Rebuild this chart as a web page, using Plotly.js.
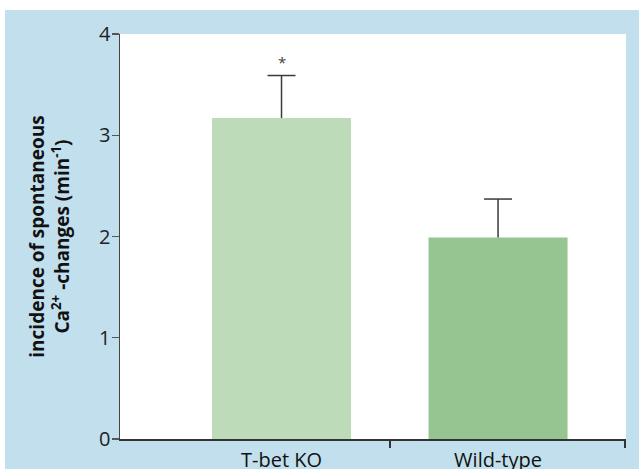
<!DOCTYPE html>
<html>
<head>
<meta charset="utf-8">
<script src="https://cdn.plot.ly/plotly-3.0.1.min.js"></script>
<style>
html,body{margin:0;padding:0;background:#ffffff;}
#wrap{position:absolute;left:5px;top:10px;width:634px;height:459px;background:#c1dfed;}
#chart{width:634px;height:459px;}
</style>
</head>
<body>
<div id="wrap"><div id="chart"></div></div>
<script>
const categories = ['T-bet KO', 'Wild-type'];
const means = [3.17, 1.99];
const errorsUp = [0.42, 0.38];
const significance = ['*', ''];
const barColors = ['#bddbb9', '#97c592'];
const yTicks = [0, 1, 2, 3, 4];

const xIdx = categories.map((c, i) => i);
const errTops = means.map((m, i) => m + errorsUp[i]);
const FONT = '"Open Sans", "Noto Sans", sans-serif';

const bars = {
  type: 'bar',
  x: xIdx,
  y: means,
  width: 0.642,
  marker: {color: barColors, line: {width: 0}},
  error_y: {type: 'data', symmetric: false, array: errorsUp, arrayminus: means.map(() => 0),
            color: '#3a3a3a', thickness: 1.5, width: 0},
  hoverinfo: 'skip'
};

// caps on top of the one-sided error bars
const caps = {
  type: 'scatter', mode: 'markers',
  x: xIdx, y: errTops,
  marker: {symbol: 'line-ew', size: 20, color: '#3a3a3a', line: {width: 1.5, color: '#3a3a3a'}},
  hoverinfo: 'skip', cliponaxis: false
};

const annotations = significance.map((s, i) => ({
  x: xIdx[i], y: errTops[i], xref: 'x', yref: 'y',
  text: s, showarrow: false, yanchor: 'bottom', yshift: 2,
  font: {family: FONT, size: 15, color: '#444'}
})).filter(a => a.text);

const layout = {
  width: 634, height: 459,
  margin: {l: 115, r: 13, t: 24, b: 30},
  paper_bgcolor: '#c1dfed',
  plot_bgcolor: '#ffffff',
  showlegend: false,
  xaxis: {
    range: [-0.746, 1.591],
    tickmode: 'array', tickvals: xIdx, ticktext: categories,
    ticks: '', showgrid: false, zeroline: false,
    showline: true, linecolor: '#333', linewidth: 1.5,
    tickfont: {family: FONT, size: 20, color: '#111'},
    ticklabelstandoff: 2,
    minor: {tickmode: 'array', tickvals: [0.5, 1.587], ticks: 'outside', ticklen: 7, tickwidth: 1.5, tickcolor: '#333', showgrid: false},
    fixedrange: true
  },
  yaxis: {
    range: [0, 4],
    tickmode: 'array', tickvals: yTicks,
    ticks: 'outside', ticklen: 7, tickwidth: 1.2, tickcolor: '#555',
    showgrid: false, zeroline: false,
    showline: true, linecolor: '#444', linewidth: 1.5,
    tickfont: {family: FONT, size: 20, color: '#222'},
    ticklabelstandoff: -3,
    title: {text: '<b>incidence of spontaneous<br>Ca<sup>2+</sup> -changes (min<sup>-1</sup>)</b>',
            font: {family: FONT, size: 19, color: '#111'}, standoff: 24},
    fixedrange: true
  },
  annotations: annotations
};

Plotly.newPlot('chart', [bars, caps], layout, {displayModeBar: false, staticPlot: true});
</script>
</body>
</html>
